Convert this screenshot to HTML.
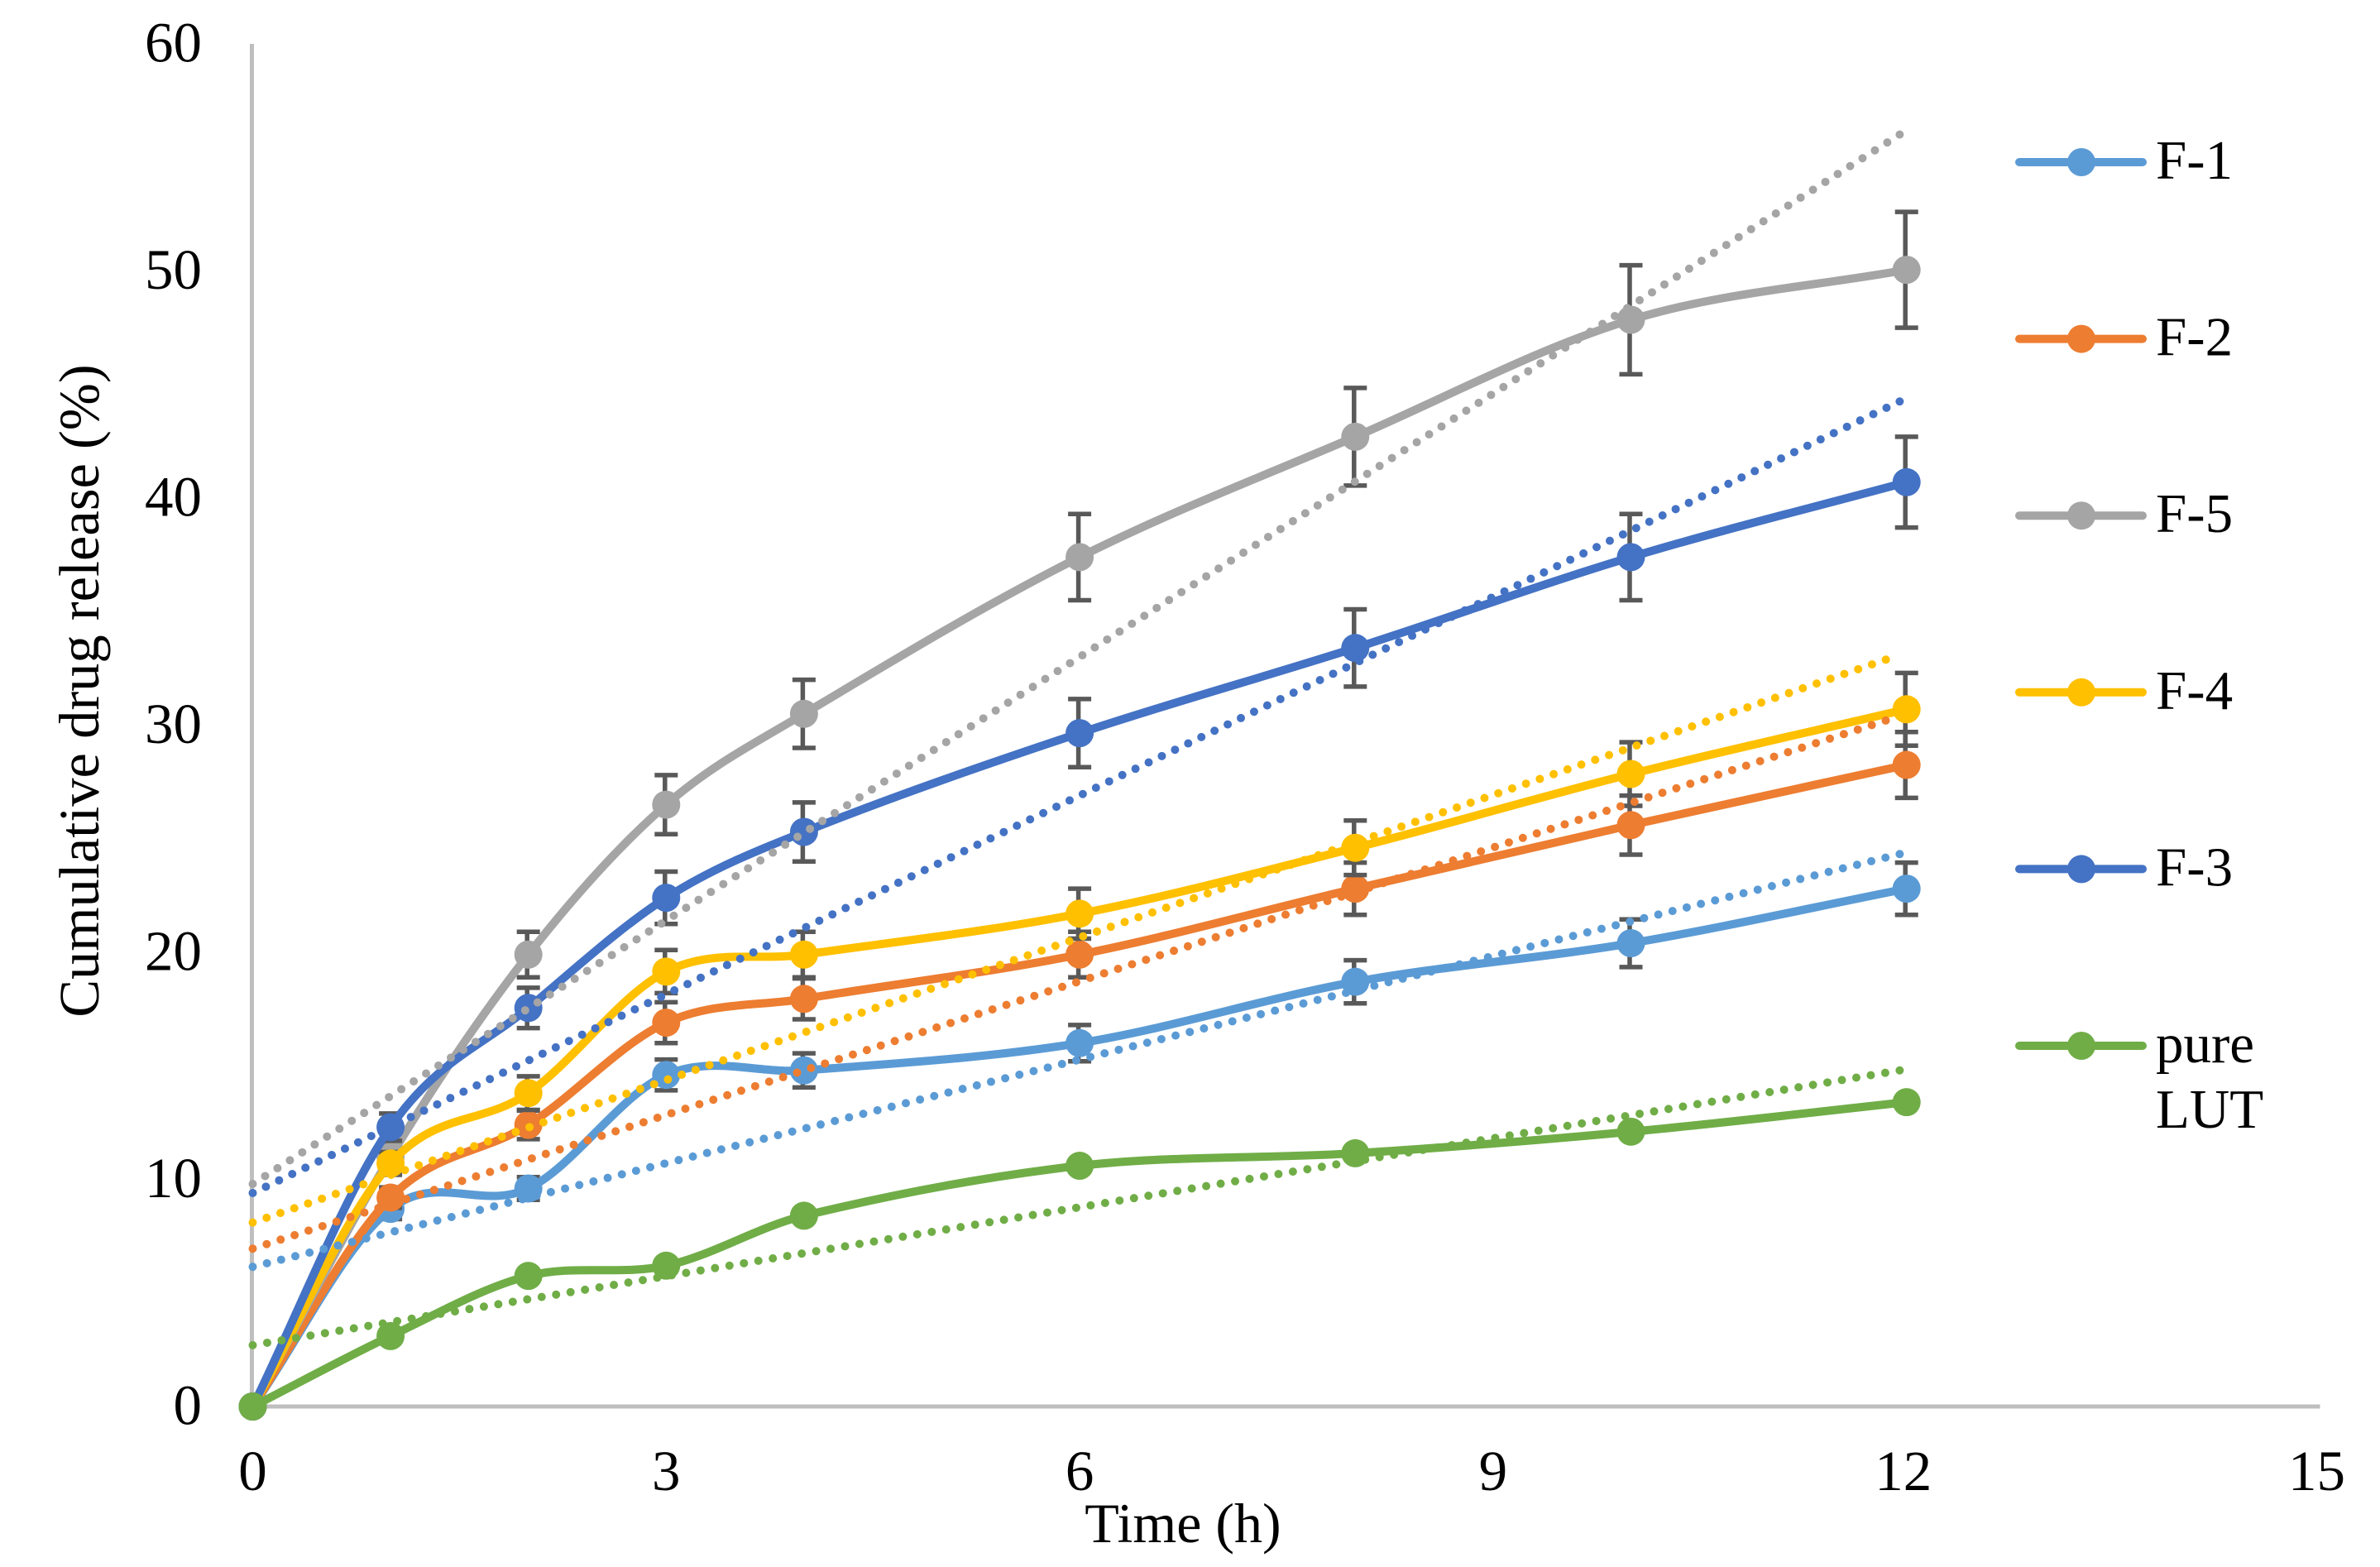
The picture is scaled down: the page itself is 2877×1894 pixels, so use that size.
<!DOCTYPE html>
<html lang="en">
<head>
<meta charset="utf-8">
<title>Cumulative drug release</title>
<style>
  html, body { margin: 0; padding: 0; background: #ffffff; }
  svg { display: block; }
  text { font-family: "Liberation Serif", serif; fill: #000000; }
</style>
</head>
<body>
<svg id="chart" xmlns="http://www.w3.org/2000/svg" width="2877" height="1894" viewBox="0 0 2877 1894">
  <rect x="0" y="0" width="2877" height="1894" fill="#ffffff"></rect>
  <g id="axes"></g>
  <g id="series"></g>
  <g id="trends"></g>
  <g id="legend"></g>
  <text x="1430" y="1864" font-size="68" text-anchor="middle">Time (h)</text>
  <text transform="translate(119 835) rotate(-90)" font-size="68.5" text-anchor="middle">Cumulative drug release (%)</text>
</svg>
<script>
const times = [0, 1, 2, 3, 4, 6, 8, 10, 12];
const xTicks = [0, 3, 6, 9, 12, 15];
const yTicks = [0, 10, 20, 30, 40, 50, 60];

const f1Values = [0, 8.7, 9.6, 14.6, 14.8, 16.0, 18.7, 20.4, 22.8];
const f2Values = [0, 9.2, 12.4, 16.9, 17.95, 19.9, 22.8, 25.6, 28.25];
const f5Values = [0, 11.0, 19.9, 26.5, 30.5, 37.4, 42.7, 47.85, 50.05];
const f4Values = [0, 10.7, 13.8, 19.15, 19.9, 21.7, 24.6, 27.85, 30.7];
const f3Values = [0, 12.3, 17.55, 22.4, 25.3, 29.65, 33.4, 37.4, 40.7];
const lutValues = [0, 3.1, 5.75, 6.2, 8.4, 10.6, 11.15, 12.1, 13.4];

const f1Errors = [0, 0.45, 0.5, 0.68, 0.75, 0.8, 0.95, 1.05, 1.15];
const f2Errors = [0, 0.45, 0.63, 0.9, 0.9, 1.0, 1.15, 1.3, 1.45];
const f5Errors = [0, 0.5, 1.0, 1.3, 1.5, 1.9, 2.15, 2.4, 2.55];
const f4Errors = [0, 0.5, 0.74, 0.95, 1.0, 1.1, 1.2, 1.4, 1.6];
const f3Errors = [0, 0.6, 0.89, 1.15, 1.3, 1.5, 1.7, 1.9, 2.0];
const lutErrors = [];

const f1Trend = [6.15, 24.4];
const f2Trend = [6.95, 30.5];
const f5Trend = [9.8, 56.2];
const f4Trend = [8.1, 33.2];
const f3Trend = [9.4, 44.4];
const lutTrend = [2.7, 14.85];

const seriesList = [
  { key: 'f-1', label: ['F-1'], color: '#5B9BD5', values: f1Values, errors: f1Errors, trend: f1Trend },
  { key: 'f-2', label: ['F-2'], color: '#ED7D31', values: f2Values, errors: f2Errors, trend: f2Trend },
  { key: 'f-5', label: ['F-5'], color: '#A5A5A5', values: f5Values, errors: f5Errors, trend: f5Trend },
  { key: 'f-4', label: ['F-4'], color: '#FFC000', values: f4Values, errors: f4Errors, trend: f4Trend },
  { key: 'f-3', label: ['F-3'], color: '#4472C4', values: f3Values, errors: f3Errors, trend: f3Trend },
  { key: 'pure-lut', label: ['pure', 'LUT'], color: '#70AD47', values: lutValues, errors: lutErrors, trend: lutTrend }
];

const SVGNS = 'http://www.w3.org/2000/svg';
const plot = { x0: 305.5, unitX: 166.6, y0: 1700, unitY: 27.45 };
function sx(v) { return plot.x0 + v * plot.unitX; }
function sy(v) { return plot.y0 - v * plot.unitY; }

function make(tag, attrs, parent) {
  const el = document.createElementNS(SVGNS, tag);
  for (const k in attrs) el.setAttribute(k, attrs[k]);
  parent.appendChild(el);
  return el;
}

function smoothPath(pts) {
  let d = 'M' + pts[0][0].toFixed(2) + ' ' + pts[0][1].toFixed(2);
  for (let i = 0; i < pts.length - 1; i++) {
    const p0 = pts[Math.max(0, i - 1)];
    const p1 = pts[i];
    const p2 = pts[i + 1];
    const p3 = pts[Math.min(pts.length - 1, i + 2)];
    const segLen = p2[0] - p1[0];
    const s1 = segLen / Math.max(1, (p2[0] - p0[0]));
    const s2 = segLen / Math.max(1, (p3[0] - p1[0]));
    const c1x = p1[0] + (p2[0] - p0[0]) * s1 / 3;
    const c1y = p1[1] + (p2[1] - p0[1]) * s1 / 3;
    const c2x = p2[0] - (p3[0] - p1[0]) * s2 / 3;
    const c2y = p2[1] - (p3[1] - p1[1]) * s2 / 3;
    d += 'C' + c1x.toFixed(2) + ' ' + c1y.toFixed(2) + ' ' + c2x.toFixed(2) + ' ' + c2y.toFixed(2) + ' ' + p2[0].toFixed(2) + ' ' + p2[1].toFixed(2);
  }
  return d;
}

const axesG = document.getElementById('axes');
const seriesG = document.getElementById('series');
const trendsG = document.getElementById('trends');
const legendG = document.getElementById('legend');

const yAxisLine = make('line', { x1: sx(0) - 1, x2: sx(0) - 1, y1: sy(60), y2: sy(0) + 2, stroke: '#BFBFBF', 'stroke-width': 5 }, axesG);



const xAxisLine = make('line', { x1: sx(0) - 3, x2: sx(15), y1: sy(0), y2: sy(0), stroke: '#BFBFBF', 'stroke-width': 5 }, axesG);



yTicks.forEach(function (t) {
  const label = make('text', { x: 244, y: sy(t) + 21.5, 'font-size': 69, 'text-anchor': 'end' }, axesG);
  label.textContent = String(t);
  
  
});

xTicks.forEach(function (t) {
  const label = make('text', { x: sx(t) - (t >= 10 ? 4 : 0), y: 1801, 'font-size': 69, 'text-anchor': 'middle' }, axesG);
  label.textContent = String(t);
  
  
});

seriesList.forEach(function (s) {
  const group = make('g', {}, seriesG);
  
  

  s.errors.forEach(function (err, i) {
    if (!err) return;
    const cx = sx(times[i]);
    const top = sy(s.values[i] + err);
    const bottom = sy(s.values[i] - err);
    const bar = make('path', {
      d: 'M' + (cx - 1.5) + ' ' + top + 'V' + bottom + 'M' + (cx - 14) + ' ' + top + 'H' + (cx + 14) + 'M' + (cx - 14) + ' ' + bottom + 'H' + (cx + 14),
      stroke: '#595959', 'stroke-width': 5.5, fill: 'none'
    }, group);
    
    
  });

  const pts = s.values.map(function (v, i) { return [sx(times[i]), sy(v)]; });
  const line = make('path', { d: smoothPath(pts), fill: 'none', stroke: s.color, 'stroke-width': 10, 'stroke-linejoin': 'round', 'stroke-linecap': 'round' }, group);
  
  

  pts.forEach(function (p) {
    const dot = make('circle', { cx: p[0], cy: p[1], r: 17, fill: s.color }, group);
    
    
  });
});

seriesList.forEach(function (s) {
  const endT = 11.95;
  const x1 = sx(0);
  const y1 = sy(s.trend[0]);
  const x2 = sx(endT);
  const y2 = sy(s.trend[0] + (s.trend[1] - s.trend[0]) * endT / 12);
  const len = Math.hypot(x2 - x1, y2 - y1);
  const pitch = len / Math.round(len / 17.7);
  const trend = make('line', {
    x1: x1, y1: y1, x2: x2, y2: y2,
    stroke: s.color, 'stroke-width': 10, 'stroke-linecap': 'round', 'stroke-dasharray': '0 ' + pitch.toFixed(4)
  }, trendsG);
  
  
});

seriesList.forEach(function (s, i) {
  const ly = 196 + i * 213.6;
  const entry = make('g', {}, legendG);
  
  

  const key = make('line', { x1: 2441, x2: 2590, y1: ly, y2: ly, stroke: s.color, 'stroke-width': 10, 'stroke-linecap': 'round' }, entry);
  
  

  const mark = make('circle', { cx: 2516, cy: ly, r: 17, fill: s.color }, entry);
  
  

  s.label.forEach(function (word, j) {
    const t = make('text', { x: 2606, y: ly + 20 + j * 79, 'font-size': 67 }, entry);
    t.textContent = word;
    
    
  });
});
</script>
</body>
</html>
